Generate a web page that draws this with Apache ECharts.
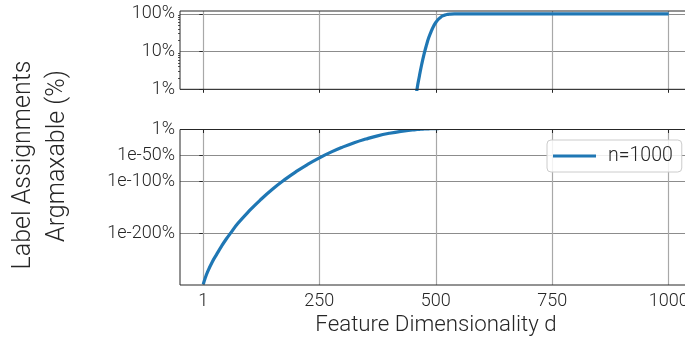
<!DOCTYPE html>
<html>
<head>
<meta charset="utf-8">
<script src="https://cdn.jsdelivr.net/npm/echarts@6/dist/echarts.min.js"></script>
<style>
  html, body { margin: 0; padding: 0; background: #ffffff; }
  #chart { width: 685px; height: 344px; }
</style>
</head>
<body>
<div id="chart"></div>
<script>
// Feature dimensionality d and the share of label assignments that are argmaxable,
// kept as log10 of the percentage (n = 1000 labels).
const dims = [1, 5, 10, 20, 30, 40, 50, 60, 75, 100, 125, 150, 175, 200, 225, 250, 275, 300, 325, 350, 375, 400, 425, 450,
              460, 465, 470, 475, 480, 485, 490, 495, 500, 505, 510, 515, 520, 525, 530, 540, 560, 1000];
const log10Pct = [-298.7, -287, -275, -256, -240.5, -225.5, -211.8, -199.5, -181.5, -156.7, -134.6, -114.8, -97.2, -81.4, -67.3, -54.8, -43.7, -34, -25.5, -18.4, -12.2, -7.3, -3.5, -0.85,
                  0.02, 0.36, 0.67, 0.94, 1.17, 1.37, 1.53, 1.665, 1.77, 1.85, 1.905, 1.944, 1.969, 1.984, 1.993, 1.999, 2.0, 2.0];
const seriesName = 'n=1000';

// Tick positions
const xTicks = [1, 250, 500, 750, 1000];
const topTicks = [0, 1, 2];                 // 1%, 10%, 100%
const bottomTicks = [0, -50, -100, -200];   // 1%, 1e-50%, 1e-100%, 1e-200%
const topMinorTicks = [];
for (let k = 0; k < 2; k++) {
  for (let m = 2; m <= 9; m++) topMinorTicks.push(k + Math.log10(m));
}

const FONT = 'Roboto';
const FW = 300;
const INK = '#262626';
const BLUE = '#1f77b4';

const points = dims.map((d, i) => [d, log10Pct[i]]);

function xAxisFor(gridIndex, showLabels) {
  return {
    type: 'value', gridIndex: gridIndex, min: -48.95, max: 1049.95,
    axisLine: { show: false },
    axisTick: { show: true, length: 3.5, customValues: xTicks, lineStyle: { color: INK, width: 1 } },
    axisLabel: {
      show: showLabels, customValues: xTicks, margin: 7,
      fontFamily: FONT, fontWeight: FW, fontSize: 18, color: INK,
      formatter: v => String(v)
    },
    splitLine: { show: true, lineStyle: { color: '#a8a8a8', width: 1.2 } }
  };
}

function gridBox(top, height) {
  return {
    left: 180, right: -7, top: top, height: height,
    show: true, borderColor: INK, borderWidth: 1, backgroundColor: 'transparent',
    z: 3, outerBoundsMode: 'none', containLabel: false
  };
}

function lineSeries(xIdx, yIdx) {
  return {
    name: seriesName, type: 'line', xAxisIndex: xIdx, yAxisIndex: yIdx,
    data: points, showSymbol: false, smooth: 0.5,
    lineStyle: { color: BLUE, width: 3.2 }, itemStyle: { color: BLUE }, z: 2
  };
}

const chart = echarts.init(document.getElementById('chart'), null, { renderer: 'canvas' });

chart.setOption({
  animation: false,
  backgroundColor: '#ffffff',
  grid: [gridBox(11, 78.3), gridBox(129.5, 155.5)],
  xAxis: [xAxisFor(0, false), xAxisFor(1, true)],
  yAxis: [
    {
      type: 'value', gridIndex: 0, min: 0, max: 2.075,
      axisLine: { show: false },
      axisTick: { show: true, length: 3.5, customValues: topTicks, lineStyle: { color: INK } },
      axisLabel: {
        customValues: topTicks, margin: 5, fontFamily: FONT, fontWeight: FW, fontSize: 18, color: INK,
        formatter: v => Math.round(Math.pow(10, v)) + '%'
      },
      splitLine: { show: true, lineStyle: { color: '#8c8c8c', width: 1 } }
    },
    {
      // minor log ticks on the upper panel
      type: 'value', gridIndex: 0, min: 0, max: 2.075, position: 'left',
      axisLine: { show: false },
      axisTick: { show: true, length: 2, customValues: topMinorTicks, lineStyle: { color: INK, width: 0.8 } },
      axisLabel: { show: false },
      splitLine: { show: false }
    },
    {
      type: 'value', gridIndex: 1, min: -300, max: 0,
      axisLine: { show: false },
      axisTick: { show: true, length: 3.5, customValues: bottomTicks, lineStyle: { color: INK } },
      axisLabel: {
        customValues: bottomTicks, margin: 5, fontFamily: FONT, fontWeight: FW, fontSize: 18, color: INK,
        formatter: v => (v === 0 ? '1%' : '1e' + v + '%')
      },
      splitLine: { show: true, lineStyle: { color: '#8c8c8c', width: 1 } }
    }
  ],
  legend: {
    data: [seriesName],
    left: 547, top: 140,
    icon: 'rect', itemWidth: 43, itemHeight: 3,
    padding: [6, 9, 6, 6],
    borderColor: '#cccccc', borderWidth: 1, borderRadius: 4,
    backgroundColor: 'rgba(255,255,255,0.85)',
    textStyle: { fontFamily: FONT, fontWeight: FW, fontSize: 19.5, color: INK, padding: [0, 0, 0, 7] }
  },
  series: [lineSeries(0, 0), lineSeries(1, 2)],
  graphic: [
    {
      // keeps the lower panel's line from spilling above its frame
      type: 'rect', z: 2.5, silent: true,
      shape: { x: 178, y: 123, width: 520, height: 6 },
      style: { fill: '#ffffff' }
    },
    {
      type: 'text', x: 24, y: 165, rotation: Math.PI / 2,
      style: { text: 'Label Assignments', fontFamily: FONT, fontWeight: FW, fontSize: 25, fill: INK, align: 'center', verticalAlign: 'middle' }
    },
    {
      type: 'text', x: 57.5, y: 156, rotation: Math.PI / 2,
      style: { text: 'Argmaxable (%)', fontFamily: FONT, fontWeight: FW, fontSize: 25, fill: INK, align: 'center', verticalAlign: 'middle' }
    },
    {
      type: 'text', x: 436, y: 325,
      style: { text: 'Feature Dimensionality d', fontFamily: FONT, fontWeight: FW, fontSize: 22.3, fill: INK, align: 'center', verticalAlign: 'middle' }
    }
  ]
});
</script>
</body>
</html>
